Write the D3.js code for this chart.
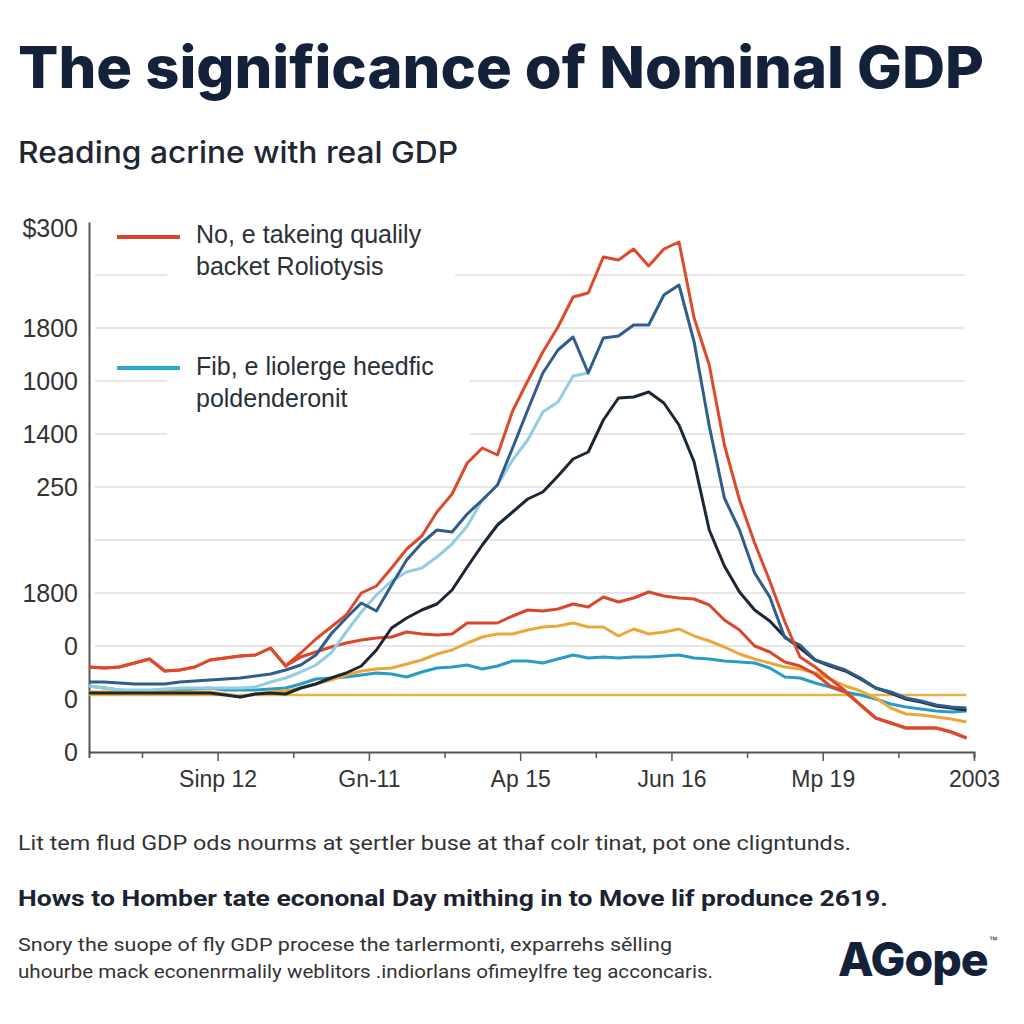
<!DOCTYPE html>
<html><head><meta charset="utf-8">
<script src="https://cdn.jsdelivr.net/npm/d3@7"></script>
<style>body{margin:0;background:#fff}svg{display:block}</style>
</head><body><svg id="c" width="1024" height="1024"></svg>
<script>
// ---- data ----
const periods = [0,2,4,6,8,10,12,14,16,18,20,22,24,26,28,30,32,34,36,38,40,42,44,46,48,50,52,54,56,58,60,62,64,66,68,70,72,74,76,78,80,82,84,86,88,90,92,94,96,98,100,102,104,106,108,110,112,114,116];
const nominalTop = [85,84,85,89,93,81,82,85,92,94,96,97,104,86,99,113,125,137,159,166,184,203,216,240,258,289,304,297,341,371,400,425,455,459,495,492,503,486,503,510,434,387,307,252,209,171,130,95,85,73,61,47,34,29,24,24,24,20,14];
const blueSeries = [70,70,69,68,68,68,70,71,72,73,74,76,78,82,87,97,118,134,149,141,167,192,209,222,220,238,252,267,304,342,379,402,415,379,414,416,427,427,457,467,410,326,254,222,179,155,114,107,92,87,82,74,64,60,54,51,47,45,44];
const lightBlueSeries = [66,64,62,62,62,63,64,64,64,64,64,65,70,74,80,87,99,120,140,157,171,180,184,195,208,226,252,267,292,312,340,350,376,379,null,null,null,null,null,null,null,null,null,null,null,null,null,null,null,null,null,null,null,null,null,null,null,null,null];
const darkSeries = [59,59,59,59,59,59,59,59,59,57,55,58,59,58,64,68,74,79,86,102,124,134,142,148,162,185,207,227,240,253,260,276,293,300,332,354,355,360,349,327,290,222,186,160,142,131,115,104,92,86,81,73,64,59,53,50,46,44,42];
const realRed = [85,84,85,89,93,81,82,85,92,94,96,97,104,86,95,100,105,109,112,114,115,120,118,117,118,129,129,129,136,142,141,143,148,145,155,150,154,160,156,154,153,147,132,122,106,100,90,86,78,66,60,47,34,29,24,24,24,20,14];
const amberSeries = [60,60,60,60,60,60,60,60,60,58,55,58,60,61,64,68,72,77,81,83,84,88,92,98,102,109,115,118,118,122,125,126,129,125,125,116,123,118,120,123,116,111,105,98,93,89,85,83,79,73,66,61,54,44,38,37,35,33,30];
const tealSeries = [66,64,62,61,61,61,62,63,64,62,62,62,63,64,68,73,74,75,77,79,78,75,80,84,85,87,83,86,91,91,89,93,97,94,95,94,95,95,96,97,94,93,91,90,89,84,75,74,69,65,60,57,53,48,45,43,41,40,41];
const baselineValue = 57;

const yTickValues = [0,53,106,159,212,265,318,371,424,477,530];
const yTickLabels = ["0","0","0","1800","","250","1400","1000","1800","","$300"];
const xMajorTicks = [17,37,57,77,97,117];
const xMajorLabels = ["Sinp 12","Gn-11","Ap 15","Jun 16","Mp 19","2003"];
const xMinorTicks = [7,27,47,67,87,107];

const legendItems = [
  {lines:["No, e takeing qualily","backet Roliotysis"], color:"#d9462b"},
  {lines:["Fib, e liolerge heedfic","poldenderonit"], color:"#2aaad0"}
];

// ---- drawing ----
const svg = d3.select("#c");
const x = d3.scaleLinear().domain([0,117]).range([89,974]);
const y = d3.scaleLinear().domain([0,530]).range([752,222]);

svg.append("rect").attr("width",1024).attr("height",1024).attr("fill","#fff");

// title
svg.append("text").attr("x",18).attr("y",88)
  .attr("font-family","Inter, 'Noto Sans', sans-serif").attr("font-weight",800)
  .attr("font-size",58).attr("fill","#14213a")
  .attr("textLength",966).attr("lengthAdjust","spacingAndGlyphs")
  .text("The significance of Nominal GDP");
svg.append("text").attr("x",18).attr("y",163)
  .attr("font-family","Inter, 'Noto Sans', sans-serif").attr("font-weight",500)
  .attr("font-size",30).attr("fill","#1e2733")
  .attr("textLength",440).attr("lengthAdjust","spacingAndGlyphs")
  .text("Reading acrine with real GDP");

// gridlines
const grid = svg.append("g");
grid.selectAll("line").data(yTickValues.slice(2,10)).join("line")
  .attr("x1",95).attr("x2",965)
  .attr("y1",d=>y(d)).attr("y2",d=>y(d))
  .attr("stroke","#e6e6e6").attr("stroke-width",2);

// legend backgrounds
svg.append("rect").attr("x",167).attr("y",212).attr("width",288).attr("height",80).attr("fill","#fff");
svg.append("rect").attr("x",167).attr("y",345).attr("width",303).attr("height",100).attr("fill","#fff");

// axes
const yAxis = d3.axisLeft(y).tickValues(yTickValues).tickSize(0).tickPadding(11)
  .tickFormat((d,i)=>yTickLabels[i]);
const gy = svg.append("g").attr("transform","translate(89,0)").call(yAxis);
gy.select(".domain").attr("stroke","#555").attr("stroke-width",2);
gy.selectAll("text").attr("font-family","'Liberation Sans', Arial, sans-serif")
  .attr("font-size",25).attr("fill","#333")
  .attr("transform",(d,i)=> i===yTickValues.length-1 ? "translate(0,6)" : null);

const gxMinor = svg.append("g").attr("transform","translate(0,752)")
  .call(d3.axisBottom(x).tickValues(xMinorTicks).tickSize(6).tickFormat(""));
gxMinor.select(".domain").attr("stroke","#555").attr("stroke-width",2);
gxMinor.selectAll(".tick line").attr("stroke","#555").attr("stroke-width",1.5);
const gx = svg.append("g").attr("transform","translate(0,752)")
  .call(d3.axisBottom(x).tickValues(xMajorTicks).tickSize(9).tickPadding(10)
    .tickFormat((d,i)=>xMajorLabels[i]));
gx.select(".domain").remove();
gx.selectAll(".tick line").attr("stroke","#555").attr("stroke-width",1.5);
gx.selectAll("text").attr("font-family","'Liberation Sans', Arial, sans-serif")
  .attr("font-size",23).attr("fill","#333");

// lines
const line = d3.line().defined(d=>d[1]!==null).x(d=>x(d[0])).y(d=>y(d[1]));
const series = [
  {v:tealSeries, c:"#2a9cc4"},
  {v:amberSeries, c:"#eba83a"},
  {v:realRed, c:"#d9462b"},
  {v:lightBlueSeries, c:"#92cde3"},
  {v:darkSeries, c:"#1b2737"},
  {v:blueSeries, c:"#305e8c"},
  {v:nominalTop, c:"#dc4a2b"}
];
svg.append("line").attr("x1",x(0)).attr("x2",x(116))
  .attr("y1",y(baselineValue)).attr("y2",y(baselineValue))
  .attr("stroke","#e9b244").attr("stroke-width",2.5);
svg.append("g").selectAll("path").data(series).join("path")
  .attr("d",s=>line(periods.map((p,i)=>[p,s.v[i]])))
  .attr("fill","none").attr("stroke",s=>s.c).attr("stroke-width",3)
  .attr("stroke-linejoin","round");

// legend
const lg = svg.append("g");
const legendY = [237,368];
const legendTextY = [[243,275],[375,407]];
legendItems.forEach((it,k)=>{
  lg.append("line").attr("x1",117).attr("x2",180).attr("y1",legendY[k]).attr("y2",legendY[k])
    .attr("stroke",it.color).attr("stroke-width",4);
  it.lines.forEach((t,j)=>{
    lg.append("text").attr("x",196).attr("y",legendTextY[k][j])
      .attr("font-family","'Liberation Sans', Arial, sans-serif").attr("font-size",25)
      .attr("fill","#2a2f38").text(t);
  });
});

// footer
const foot = svg.append("g").attr("font-family","Roboto, 'Liberation Sans', sans-serif");
foot.append("text").attr("x",18).attr("y",850).attr("font-size",20).attr("fill","#333")
  .attr("textLength",833).attr("lengthAdjust","spacingAndGlyphs")
  .text("Lit tem flud GDP ods nourms at ȿertler buse at thaf colr tinat, pot one cligntunds.");
foot.append("text").attr("x",18).attr("y",906).attr("font-size",22).attr("font-weight",700).attr("fill","#1b2230")
  .attr("textLength",870).attr("lengthAdjust","spacingAndGlyphs")
  .text("Hows to Homber tate econonal Day mithing in to Move lif produnce 2619.");
foot.append("text").attr("x",18).attr("y",951).attr("font-size",19).attr("fill","#333")
  .attr("textLength",654).attr("lengthAdjust","spacingAndGlyphs")
  .text("Snory the suope of fly GDP procese the tarlermonti, exparrehs sělling");
foot.append("text").attr("x",18).attr("y",978).attr("font-size",19).attr("fill","#333")
  .attr("textLength",695).attr("lengthAdjust","spacingAndGlyphs")
  .text("uhourbe mack econenrmalily weblitors .indiorlans ofimeylfre teg acconcaris.");
const logo = svg.append("text").attr("x",838).attr("y",976)
  .attr("font-family","Inter, 'Noto Sans', sans-serif").attr("font-weight",800)
  .attr("font-size",50).attr("letter-spacing",-1).attr("fill","#14213a").text("AGope");
const natural = logo.node().getComputedTextLength();
logo.attr("font-size", 50*150/natural);
const lb = logo.node().getBBox();
svg.append("text").attr("x",lb.x+lb.width+1).attr("y",lb.y+12)
  .attr("font-family","'Liberation Sans', sans-serif").attr("font-size",9).attr("fill","#14213a").text("™");
</script></body></html>
